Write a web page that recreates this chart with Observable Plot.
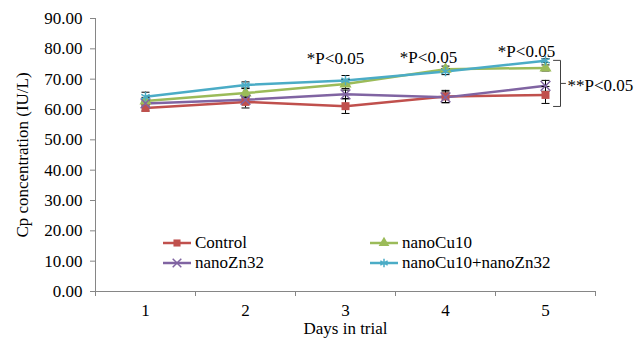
<!DOCTYPE html>
<html><head><meta charset="utf-8">
<script src="https://cdn.jsdelivr.net/npm/d3@7"></script>
<script src="https://cdn.jsdelivr.net/npm/@observablehq/plot@0.6"></script>
<style>body{margin:0;background:#fff}#chart{width:644px;height:339px}</style>
</head><body><div id="chart"></div>
<script>
const days = [1, 2, 3, 4, 5];
const seriesNames = ["Control", "nanoCu10", "nanoZn32", "nanoCu10+nanoZn32"];
const control  = [60.5, 62.5, 61.1, 64.3, 64.8];
const nanoCu10 = [62.8, 65.4, 68.4, 73.3, 73.7];
const nanoZn32 = [62.0, 63.2, 65.0, 64.0, 67.8];
const combo    = [64.2, 68.1, 69.6, 72.5, 76.1];
const controlErr  = [1.0, 2.0, 2.4, 2.0, 2.8];
const nanoCu10Err = [1.2, 1.5, 1.5, 1.0, 1.0];
const nanoZn32Err = [1.2, 1.2, 1.4, 1.8, 1.8];
const comboErr    = [1.5, 1.0, 1.6, 1.0, 0.6];
const yTicks = [0, 10, 20, 30, 40, 50, 60, 70, 80, 90];
const xBoundaries = [0.5, 1.5, 2.5, 3.5, 4.5, 5.5];
const starLabels = [
  {x: 2.9, y: 76.8, text: "*P<0.05"},
  {x: 3.83, y: 77.1, text: "*P<0.05"},
  {x: 4.81, y: 79.1, text: "*P<0.05"}
];
const bracketTop = 76.2, bracketBottom = 61.0, bracketMid = 68.6;
const bracketLabel = {x: 5.22, y: 67.9, text: "**P<0.05"};

const colors = ["#C0504D", "#9BBB59", "#8064A2", "#4BACC6"];
const symbols = ["square", "triangle", "times", "asterisk"];
const filled = [true, true, false, false];

const values = [control, nanoCu10, nanoZn32, combo];
const errs = [controlErr, nanoCu10Err, nanoZn32Err, comboErr];
const rows = [];
values.forEach((vals, s) => days.forEach((d, i) => rows.push({
  series: seriesNames[s], s, day: d, value: vals[i], lo: vals[i] - errs[s][i], hi: vals[i] + errs[s][i]
})));

const FONT = "'Liberation Serif', 'Times New Roman', serif";
const capHalf = 0.04;
const marks = [
  Plot.ruleX([0.5], {stroke: "#868686"}),
  Plot.ruleY([0], {stroke: "#868686"}),
  Plot.axisY({ticks: yTicks, tickFormat: d => d.toFixed(2), tickSize: 5, tickPadding: 8, stroke: "#868686", fill: "black", label: null}),
  Plot.axisX({ticks: days, tickFormat: d => String(d), tickSize: 0, tickPadding: 12, fill: "black", label: null}),
  Plot.axisX({ticks: xBoundaries, tickSize: 5, tickFormat: () => "", stroke: "#868686", label: null}),
  Plot.text(["Cp concentration (IU/L)"], {frameAnchor: "left", textAnchor: "middle", lineAnchor: "middle", rotate: -90, dx: -73, fill: "black"}),
  Plot.text(["Days in trial"], {frameAnchor: "bottom", lineAnchor: "middle", dy: 37, fill: "black"})
];
seriesNames.forEach((name, s) => {
  const data = rows.filter(r => r.s === s);
  marks.push(Plot.line(data, {x: "day", y: "value", stroke: colors[s], strokeWidth: 2.5}));
});
seriesNames.forEach((name, s) => {
  const data = rows.filter(r => r.s === s);
  marks.push(Plot.ruleX(data, {x: "day", y1: "lo", y2: "hi", stroke: "black", strokeWidth: 1}));
  marks.push(Plot.link(data, {x1: d => d.day - capHalf, x2: d => d.day + capHalf, y1: "hi", y2: "hi", stroke: "black", strokeWidth: 1}));
  marks.push(Plot.link(data, {x1: d => d.day - capHalf, x2: d => d.day + capHalf, y1: "lo", y2: "lo", stroke: "black", strokeWidth: 1}));
});
seriesNames.forEach((name, s) => {
  const data = rows.filter(r => r.s === s);
  marks.push(Plot.dot(data, filled[s]
    ? {x: "day", y: "value", symbol: symbols[s], r: 4.5, fill: colors[s], stroke: "none"}
    : {x: "day", y: "value", symbol: symbols[s], r: 4.5, stroke: colors[s], strokeWidth: 1.5, fill: "none"}));
});
marks.push(Plot.text(starLabels, {x: "x", y: "y", text: "text", fill: "black"}));
const bracket = [
  {x: 5.08, y: bracketTop}, {x: 5.15, y: bracketTop}, {x: 5.15, y: bracketBottom}, {x: 5.08, y: bracketBottom}
];
marks.push(Plot.line(bracket, {x: "x", y: "y", stroke: "#404040", strokeWidth: 1, curve: "linear"}));
marks.push(Plot.line([{x: 5.15, y: bracketMid}, {x: 5.2, y: bracketMid}], {x: "x", y: "y", stroke: "#404040", strokeWidth: 1}));
marks.push(Plot.text([bracketLabel], {x: "x", y: "y", text: "text", textAnchor: "start", fill: "black"}));

const svg = Plot.plot({
  width: 644, height: 339,
  marginLeft: 95, marginRight: 49, marginTop: 18, marginBottom: 48,
  style: {fontFamily: FONT, fontSize: "17px", background: "white", color: "black"},
  x: {domain: [0.5, 5.5], axis: null},
  y: {domain: [0, 90], axis: null},
  marks
});

// legend
const legendPos = [[163, 243], [370, 243], [163, 263], [370, 263]];
const lg = d3.select(svg).append("g").attr("font-family", FONT).attr("font-size", 17).attr("text-anchor", "start");
const d3sym = [d3.symbolSquare, d3.symbolTriangle, d3.symbolTimes, d3.symbolAsterisk];
seriesNames.forEach((name, s) => {
  const [lx, ly] = legendPos[s];
  lg.append("line").attr("x1", lx).attr("x2", lx + 28).attr("y1", ly).attr("y2", ly).attr("stroke", colors[s]).attr("stroke-width", 2.5);
  const p = lg.append("path").attr("transform", `translate(${lx + 14},${ly})`).attr("d", d3.symbol(d3sym[s], 50)());
  if (filled[s]) p.attr("fill", colors[s]); else p.attr("fill", "none").attr("stroke", colors[s]).attr("stroke-width", 1.5);
  lg.append("text").attr("x", lx + 32).attr("y", ly).attr("dy", "0.32em").attr("text-anchor", "start").attr("fill", "black").text(name);
});
document.getElementById("chart").appendChild(svg);
</script></body></html>
